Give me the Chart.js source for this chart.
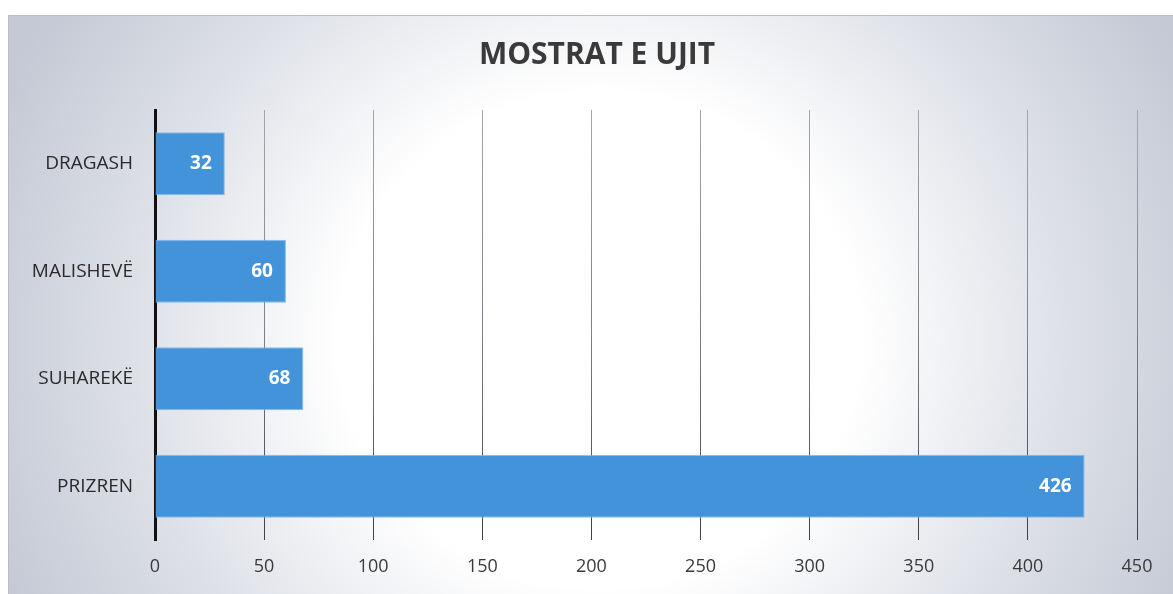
<!DOCTYPE html>
<html>
<head>
<meta charset="utf-8">
<script src="https://cdn.jsdelivr.net/npm/chart.js@4.4.1/dist/chart.umd.min.js"></script>
<style>
  html, body { margin: 0; padding: 0; background: #ffffff; }
  #wrap { width: 1173px; height: 594px; position: relative; }
</style>
</head>
<body>
<div id="wrap"><canvas id="c" width="1173" height="594"></canvas></div>
<script>
const categories = ['DRAGASH', 'MALISHEVË', 'SUHAREKË', 'PRIZREN'];
const values = [32, 60, 68, 426];
const xTicks = [0, 50, 100, 150, 200, 250, 300, 350, 400, 450];
const titleText = 'MOSTRAT E UJIT';

const FONT = "'Open Sans', 'Liberation Sans', sans-serif";

const panelBg = {
  id: 'panelBg',
  beforeDraw(chart) {
    const ctx = chart.ctx;
    const w = chart.width, h = chart.height;
    ctx.save();
    ctx.translate(600, 340);
    ctx.scale(1, 0.95);
    const g = ctx.createRadialGradient(0, 0, 0, 0, 0, 650);
    g.addColorStop(0, '#ffffff');
    g.addColorStop(0.4, '#ffffff');
    g.addColorStop(0.72, '#dde0e7');
    g.addColorStop(1, '#c5c9d5');
    ctx.fillStyle = g;
    ctx.fillRect(8 - 600, (15 - 340) / 0.95, w, (h - 15) / 0.95 + 20);
    ctx.restore();
    ctx.save();
    ctx.strokeStyle = '#b9bcc4';
    ctx.lineWidth = 1;
    ctx.beginPath();
    ctx.moveTo(8.5, h);
    ctx.lineTo(8.5, 15.5);
    ctx.lineTo(w, 15.5);
    ctx.stroke();
    ctx.restore();
  }
};

const titleDraw = {
  id: 'titleDraw',
  afterDraw(chart) {
    const ctx = chart.ctx;
    ctx.save();
    ctx.fillStyle = '#3a3a3a';
    ctx.font = "bold 30px " + FONT;
    ctx.textAlign = 'center';
    ctx.textBaseline = 'middle';
    ctx.fillText(titleText, 597, 55);
    ctx.restore();
  }
};

const valueLabels = {
  id: 'valueLabels',
  afterDatasetsDraw(chart) {
    const ctx = chart.ctx;
    const meta = chart.getDatasetMeta(0);
    ctx.save();
    ctx.fillStyle = '#ffffff';
    ctx.font = "bold 19px " + FONT;
    ctx.textAlign = 'right';
    ctx.textBaseline = 'middle';
    meta.data.forEach((bar, i) => {
      ctx.fillText(String(values[i]), bar.x - 13, bar.y);
    });
    ctx.restore();
  }
};

function gridColor(context) {
  const chart = context.chart;
  const area = chart.chartArea;
  if (!area) return '#6f747d';
  const g = chart.ctx.createLinearGradient(0, area.top, 0, area.bottom);
  g.addColorStop(0, '#a2a6ae');
  g.addColorStop(0.5, '#7d828b');
  g.addColorStop(1, '#3c4149');
  return g;
}

new Chart(document.getElementById('c'), {
  type: 'bar',
  data: {
    labels: categories,
    datasets: [{
      data: values,
      backgroundColor: '#4393da',
      borderColor: '#86bbea',
      borderWidth: 1,
      borderSkipped: 'start',
      categoryPercentage: 0.6,
      barPercentage: 0.98
    }]
  },
  options: {
    indexAxis: 'y',
    responsive: false,
    animation: false,
    devicePixelRatio: 1,
    layout: { padding: { left: 8, right: 36, top: 110, bottom: 0 } },
    plugins: {
      legend: { display: false },
      tooltip: { enabled: false },
      title: { display: false }
    },
    scales: {
      x: {
        min: 0,
        max: 450,
        afterBuildTicks(scale) { scale.ticks = xTicks.map(v => ({ value: v })); },
        afterFit(scale) { scale.height = 54; },
        border: { display: false },
        grid: { color: gridColor, lineWidth: 1, drawTicks: false },
        ticks: {
          color: '#3a3a3a',
          padding: 16,
          font: { family: FONT, size: 18 }
        }
      },
      y: {
        afterFit(scale) { scale.width = 147; },
        border: { display: true, color: '#111111', width: 3 },
        grid: { display: false, drawTicks: false },
        ticks: {
          color: '#2a2a2a',
          padding: 22,
          font: { family: FONT, size: 19 }
        }
      }
    }
  },
  plugins: [panelBg, valueLabels, titleDraw]
});
</script>
</body>
</html>
